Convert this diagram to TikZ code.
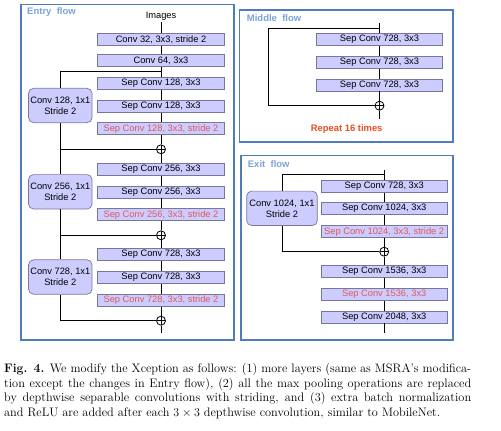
\documentclass[tikz,border=0pt]{standalone}
\usepackage{fontspec}
\newfontfamily\diagfont{Liberation Sans}
\usetikzlibrary{positioning,backgrounds}
\definecolor{flowblue}{RGB}{79,124,187}
\definecolor{titleblue}{RGB}{123,163,214}
\definecolor{convfill}{RGB}{204,204,255}
\definecolor{convedge}{RGB}{120,120,150}
\definecolor{stridered}{RGB}{226,88,88}
\definecolor{repeatred}{RGB}{232,80,30}
\newcommand{\capline}[1]{\makebox[467pt][s]{#1}}

\begin{document}
\begin{tikzpicture}[x=1pt,y=-1pt,
    conv/.style={draw=convedge, fill=convfill, line width=0.7pt, minimum width=126.5pt,
      minimum height=12pt, inner sep=0pt, font=\diagfont\fontsize{9.3}{11}\selectfont},
    strided/.style={conv, text=stridered},
    skipconv/.style={conv, rounded corners=5pt, minimum width=63.5pt, minimum height=34.4pt, align=center},
    addop/.style={circle, draw, fill=white, line width=0.8pt, minimum size=9pt, inner sep=0pt,
      path picture={\draw[line width=0.7pt] (path picture bounding box.north) -- (path picture bounding box.south)
        (path picture bounding box.west) -- (path picture bounding box.east);}},
    flowframe/.style={draw=flowblue, line width=1.2pt},
    flowtitle/.style={anchor=west, inner sep=0pt, text=titleblue, font=\diagfont\bfseries\fontsize{9.5}{11}\selectfont},
    wire/.style={line width=1pt}]
    \useasboundingbox (0,0) rectangle (501,431);

    % frames
    \draw[flowframe] (21,4.3) rectangle (234,340);
    \draw[flowframe] (239.3,10) rectangle (453,142);
    \draw[flowframe] (241,155.7) rectangle (453,340);
    \node[flowtitle] (entrytitle) at (27,12) {Entry~ flow};
    \node[flowtitle] (middletitle) at (246.7,17.7) {Middle~ flow};
    \node[flowtitle] (exittitle) at (247.7,164.3) {Exit~ flow};

    % entry flow
    \node[inner sep=1pt, font=\diagfont\fontsize{9.3}{11}\selectfont] (img) at (161,16.3) {Images};
    \node[conv] (e1) at (161,39.5) {Conv 32, 3x3, stride 2};
    \node[conv] (e2) at (161,60.7) {Conv 64, 3x3};
    \node[conv] (e3) at (161,83.3) {Sep Conv 128, 3x3};
    \node[conv] (e4) at (161,106.3) {Sep Conv 128, 3x3};
    \node[strided] (e5) at (161,128.7) {Sep Conv 128, 3x3, stride 2};
    \node[addop] (p1) at (161,149.3) {};
    \node[conv] (e6) at (161,169.3) {Sep Conv 256, 3x3};
    \node[conv] (e7) at (161,192) {Sep Conv 256, 3x3};
    \node[strided] (e8) at (161,214.8) {Sep Conv 256, 3x3, stride 2};
    \node[addop] (p2) at (161,235.3) {};
    \node[conv] (e9) at (161,254.7) {Sep Conv 728, 3x3};
    \node[conv] (e10) at (161,277.5) {Sep Conv 728, 3x3};
    \node[strided] (e11) at (161,300.2) {Sep Conv 728, 3x3, stride 2};
    \node[addop] (p3) at (161,320.7) {};
    \coordinate (entryend) at (161,332.7);
    \coordinate (br1) at (161,71.7);
    \node[skipconv] (s1) at (60.3,105.5) {Conv 128, 1x1\\Stride 2};
    \node[skipconv] (s2) at (60.3,191.8) {Conv 256, 1x1\\Stride 2};
    \node[skipconv] (s3) at (60.3,277) {Conv 728, 1x1\\Stride 2};

    \draw[wire] (img) -- (e1) -- (e2) -- (e3) -- (e4) -- (e5) -- (p1) -- (e6) -- (e7) -- (e8) -- (p2)
      -- (e9) -- (e10) -- (e11) -- (p3) -- (entryend);
    \draw[wire] (br1) -| (s1);
    \draw[wire] (s1) |- (p1);
    \draw[wire] (p1) -| (s2);
    \draw[wire] (s2) |- (p2);
    \draw[wire] (p2) -| (s3);
    \draw[wire] (s3) |- (p3);

    % middle flow
    \coordinate (mtop) at (379.5,23.3);
    \coordinate (mbr) at (379.5,28.3);
    \coordinate (mleft) at (268.3,28.3);
    \node[conv] (m1) at (379.5,39.5) {Sep Conv 728, 3x3};
    \node[conv] (m2) at (379.5,62.5) {Sep Conv 728, 3x3};
    \node[conv] (m3) at (379.5,85) {Sep Conv 728, 3x3};
    \node[addop] (mp) at (379.5,105.7) {};
    \coordinate (mend) at (379.5,119);
    \node[text=repeatred, font=\diagfont\bfseries\fontsize{9.4}{11}\selectfont] (rep) at (346.7,128.7) {Repeat 16 times};

    \draw[wire] (mtop) -- (m1) -- (m2) -- (m3) -- (mp) -- (mend);
    \draw[wire] (mbr) -- (mleft) |- (mp);

    % exit flow
    \coordinate (xtop) at (384.2,170);
    \coordinate (xbr) at (384.2,174.3);
    \node[conv] (x1) at (384.2,186.2) {Sep Conv 728, 3x3};
    \node[conv] (x2) at (384.2,208.3) {Sep Conv 1024, 3x3};
    \node[strided] (x3) at (384.2,231.7) {Sep Conv 1024, 3x3, stride 2};
    \node[addop] (xp) at (384.2,251.7) {};
    \node[conv] (x4) at (384.2,271.5) {Sep Conv 1536, 3x3};
    \node[strided] (x5) at (384.2,294.3) {Sep Conv 1536, 3x3};
    \node[conv] (x6) at (384.2,317) {Sep Conv 2048, 3x3};
    \coordinate (xend) at (384.2,332.7);
    \node[skipconv, minimum width=70.6pt] (xs) at (282,208.3) {Conv 1024, 1x1\\Stride 2};

    \draw[wire] (xtop) -- (x1) -- (x2) -- (x3) -- (xp) -- (x4) -- (x5) -- (x6) -- (xend);
    \draw[wire] (xbr) -| (xs);
    \draw[wire] (xs) |- (xp);

    % caption
    \node[anchor=north west, inner sep=0pt, align=left, font=\fontsize{12.3}{14.5}\selectfont] (caption) at (4,363.5) {%
      \capline{\textbf{Fig. 4.} We modify the Xception as follows: (1) more layers (same as MSRA's modifica-}\\
      \capline{tion except the changes in Entry flow), (2) all the max pooling operations are replaced}\\
      \capline{by depthwise separable convolutions with striding, and (3) extra batch normalization}\\
      and ReLU are added after each $3\times3$ depthwise convolution, similar to MobileNet.};
\end{tikzpicture}
\end{document}
